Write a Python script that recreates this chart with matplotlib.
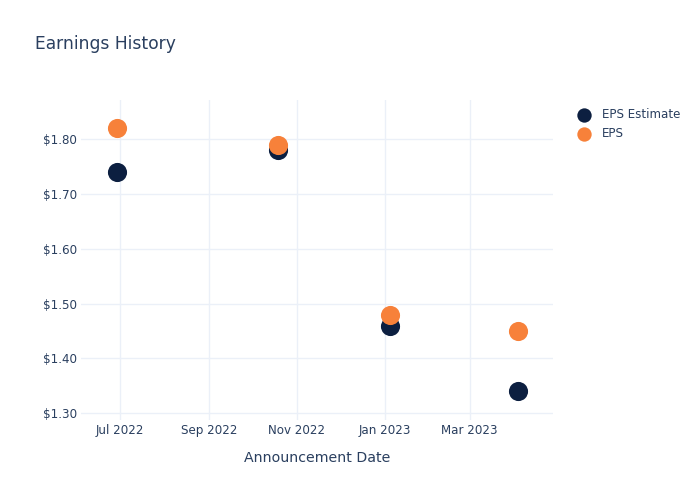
import matplotlib
matplotlib.use("Agg")
import matplotlib.pyplot as plt
import matplotlib.dates as mdates
from matplotlib.ticker import FuncFormatter
import pandas as pd

announce_dates = pd.to_datetime(["2022-06-29", "2022-10-19", "2023-01-05", "2023-04-04"])
eps_estimate = [1.74, 1.78, 1.46, 1.34]
eps_actual = [1.82, 1.79, 1.48, 1.45]

text_color = "#2a3f5f"
grid_color = "#ebf0f8"
navy = "#0c1f40"
orange = "#f7813a"

fig = plt.figure(figsize=(7, 5), dpi=100)
ax = fig.add_axes([81 / 700, 80 / 500, 472 / 700, 320 / 500])

ax.scatter(announce_dates, eps_estimate, s=190, color=navy, label="EPS Estimate", zorder=3, linewidths=0)
ax.scatter(announce_dates, eps_actual, s=190, color=orange, label="EPS", zorder=4, linewidths=0)

ax.set_xlim(pd.Timestamp("2022-06-04"), pd.Timestamp("2023-04-28"))
ax.set_ylim(1.2877, 1.8717)
ax.set_yticks([1.3, 1.4, 1.5, 1.6, 1.7, 1.8])
ax.yaxis.set_major_formatter(FuncFormatter(lambda v, p: f"${v:.2f}"))
ax.xaxis.set_major_locator(mdates.MonthLocator(bymonth=[1, 3, 5, 7, 9, 11]))
ax.xaxis.set_major_formatter(mdates.DateFormatter("%b %Y"))

for s in ax.spines.values():
    s.set_visible(False)
ax.grid(True, color=grid_color, linewidth=1)
ax.set_axisbelow(True)
ax.tick_params(length=0, labelsize=8.6, labelcolor=text_color, pad=3)

ax.set_xlabel("Announcement Date", fontsize=10.2, color=text_color, labelpad=10)

fig.text(35 / 700, 1 - 44 / 500, "Earnings History", fontsize=12.3, color=text_color, va="center", ha="left")

leg = ax.legend(loc="upper left", bbox_to_anchor=(572 / 700, 1 - 103 / 500), bbox_transform=fig.transFigure,
                frameon=False, fontsize=8.6, labelcolor=text_color, markerscale=0.75,
                handletextpad=0.9, labelspacing=0.55, borderaxespad=0, handlelength=1.2)

fig.savefig("out.png", dpi=100)
